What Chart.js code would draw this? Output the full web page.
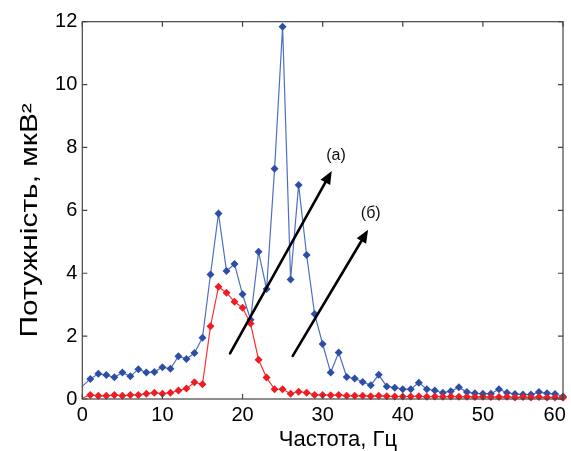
<!DOCTYPE html>
<html>
<head>
<meta charset="utf-8">
<script src="https://cdn.jsdelivr.net/npm/chart.js@4/dist/chart.umd.min.js"></script>
<style>
html,body{margin:0;padding:0;background:#fff;}
#wrap{width:571px;height:451px;}
</style>
</head>
<body>
<div id="wrap"><canvas id="c" width="571" height="451"></canvas></div>
<script>
const freq = [0,1,2,3,4,5,6,7,8,9,10,11,12,13,14,15,16,17,18,19,20,21,22,23,24,25,26,27,28,29,30,31,32,33,34,35,36,37,38,39,40,41,42,43,44,45,46,47,48,49,50,51,52,53,54,55,56,57,58,59,60];
const powerA = [0.40,0.64,0.80,0.76,0.69,0.84,0.72,0.95,0.84,0.86,1.01,0.96,1.36,1.27,1.46,1.95,3.96,5.90,4.07,4.29,3.33,2.52,4.68,3.50,7.32,11.84,3.80,6.81,4.58,2.70,1.75,0.84,1.48,0.70,0.65,0.54,0.44,0.77,0.40,0.36,0.31,0.31,0.52,0.31,0.27,0.20,0.25,0.37,0.22,0.18,0.17,0.17,0.31,0.20,0.16,0.14,0.14,0.22,0.18,0.16,0.08];
const powerB = [0.03,0.13,0.10,0.10,0.13,0.10,0.13,0.13,0.17,0.20,0.17,0.20,0.27,0.33,0.53,0.47,2.31,3.57,3.38,3.09,2.90,2.40,1.25,0.68,0.31,0.31,0.17,0.23,0.20,0.13,0.13,0.12,0.13,0.10,0.10,0.10,0.09,0.10,0.09,0.08,0.08,0.08,0.09,0.07,0.08,0.07,0.08,0.07,0.07,0.06,0.07,0.06,0.06,0.07,0.05,0.06,0.05,0.06,0.05,0.05,0.04];
const xTicks = [0,10,20,30,40,50,60];
const yTicks = [0,2,4,6,8,10,12];
const xTitle = 'Частота, Гц';
const yTitle = 'Потужність, мкВ²';
// annotation arrows in data units: [x0, y0, x1, y1, label, labelX, labelY]
const arrows = [
  [18.44, 1.45, 31.13, 7.25, '(а)', 31.67, 7.75],
  [26.27, 1.37, 35.67, 5.38, '(б)', 36.00, 5.90]
];

const FONT = "'Liberation Sans', Arial, sans-serif";

const framePlugin = {
  id: 'frame',
  afterDatasetsDraw(chart) {
    const ctx = chart.ctx, a = chart.chartArea;
    const xs = chart.scales.x, ys = chart.scales.y;
    ctx.save();
    // arrows
    arrows.forEach(ar => {
      const x0 = xs.getPixelForValue(ar[0]), y0 = ys.getPixelForValue(ar[1]);
      const x1 = xs.getPixelForValue(ar[2]), y1 = ys.getPixelForValue(ar[3]);
      const ang = Math.atan2(y1 - y0, x1 - x0);
      const hl = 13, hw = 5.5;
      const bx = x1 - hl * Math.cos(ang), by = y1 - hl * Math.sin(ang);
      ctx.strokeStyle = '#000';
      ctx.lineWidth = 2.6;
      ctx.lineCap = 'round';
      ctx.beginPath();
      ctx.moveTo(x0, y0);
      ctx.lineTo(bx, by);
      ctx.stroke();
      ctx.fillStyle = '#000';
      ctx.beginPath();
      ctx.moveTo(x1, y1);
      ctx.lineTo(bx + hw * Math.sin(ang), by - hw * Math.cos(ang));
      ctx.lineTo(bx - hw * Math.sin(ang), by + hw * Math.cos(ang));
      ctx.closePath();
      ctx.fill();
      ctx.font = '16px ' + FONT;
      ctx.textAlign = 'center';
      ctx.textBaseline = 'middle';
      ctx.fillStyle = '#111';
      ctx.fillText(ar[4], xs.getPixelForValue(ar[5]), ys.getPixelForValue(ar[6]));
    });
    // frame
    ctx.strokeStyle = '#444';
    ctx.lineWidth = 1.2;
    ctx.lineCap = 'butt';
    ctx.strokeRect(a.left, a.top, a.right - a.left, a.bottom - a.top);
    const tl = 5;
    ctx.beginPath();
    xTicks.forEach(v => {
      const px = xs.getPixelForValue(v);
      ctx.moveTo(px, a.bottom); ctx.lineTo(px, a.bottom - tl);
      ctx.moveTo(px, a.top); ctx.lineTo(px, a.top + tl);
    });
    yTicks.forEach(v => {
      const py = ys.getPixelForValue(v);
      ctx.moveTo(a.left, py); ctx.lineTo(a.left + tl, py);
      ctx.moveTo(a.right, py); ctx.lineTo(a.right - tl, py);
    });
    ctx.stroke();
    // y axis title (stretched along its reading direction like the original)
    ctx.save();
    ctx.translate(37, (a.top + a.bottom) / 2 + 10);
    ctx.rotate(-Math.PI / 2);
    ctx.scale(1.3, 1);
    ctx.font = '23px ' + FONT;
    ctx.textAlign = 'center';
    ctx.textBaseline = 'alphabetic';
    ctx.fillStyle = '#000';
    ctx.fillText(yTitle, 0, 0);
    ctx.restore();
    ctx.restore();
  }
};

new Chart(document.getElementById('c'), {
  type: 'line',
  data: {
    datasets: [
      {
        label: 'б',
        data: freq.map((f, i) => ({x: f, y: powerB[i]})),
        borderColor: '#ff3030',
        backgroundColor: '#ee1c25',
        borderWidth: 1.2,
        pointStyle: 'rectRot',
        pointRadius: freq.map((f, i) => i === 0 ? 0 : 4),
        pointBorderWidth: 0,
        tension: 0,
        clip: 8
      },
      {
        label: 'а',
        data: freq.map((f, i) => ({x: f, y: powerA[i]})),
        borderColor: '#4e6fc0',
        backgroundColor: '#2d4ea6',
        borderWidth: 1.2,
        pointStyle: 'rectRot',
        pointRadius: freq.map((f, i) => i === 0 ? 0 : 4),
        pointBorderWidth: 0,
        tension: 0,
        clip: 8
      }
    ]
  },
  options: {
    responsive: false,
    animation: false,
    layout: {padding: {left: 0, right: 8, top: 21.7, bottom: 0}},
    plugins: {legend: {display: false}, tooltip: {enabled: false}},
    scales: {
      x: {
        type: 'linear',
        min: 0, max: 60,
        afterBuildTicks(s) { s.ticks = xTicks.map(v => ({value: v})); },
        afterFit(s) { s.height = 52; s.paddingLeft = 0; s.paddingRight = 0; },
        grid: {display: false, drawTicks: false},
        border: {display: false},
        ticks: {
          color: '#000', padding: 4, font: {family: FONT, size: 20},
          callback: v => (v === 60 ? '60   ' : String(v))
        },
        title: {display: true, text: '     ' + xTitle, color: '#000', font: {family: FONT, size: 22}, padding: {top: 0, bottom: -2}}
      },
      y: {
        min: 0, max: 12,
        afterBuildTicks(s) { s.ticks = yTicks.map(v => ({value: v})); },
        afterFit(s) { s.width = 82.3; s.paddingTop = 0; s.paddingBottom = 0; },
        grid: {display: false, drawTicks: false},
        border: {display: false},
        ticks: {color: '#000', padding: 5, font: {family: FONT, size: 20}},
        title: {display: false, text: yTitle}
      }
    }
  },
  plugins: [framePlugin]
});
</script>
</body>
</html>
